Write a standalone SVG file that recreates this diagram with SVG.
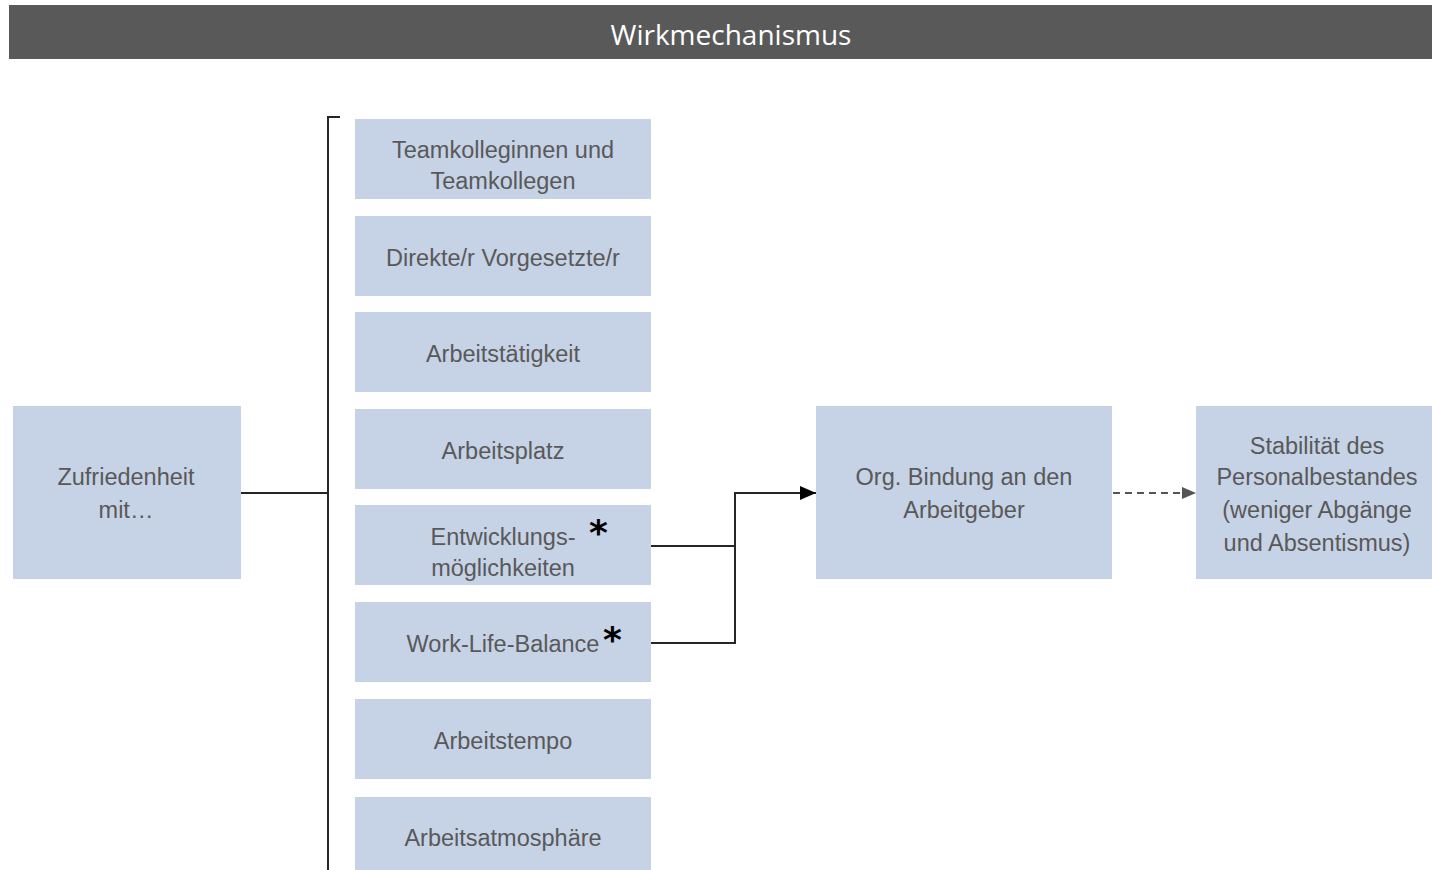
<svg xmlns="http://www.w3.org/2000/svg" width="1432" height="870" viewBox="0 0 1432 870">
<style>
.box{fill:#c6d2e6}
.t{font-family:"Liberation Sans",Arial,sans-serif;font-size:23.5px;fill:#595959;text-anchor:middle}
.ln{stroke:#262626;stroke-width:2;fill:none}
.star{font-family:"DejaVu Sans",sans-serif;font-size:36px;font-weight:bold;fill:#000}
</style>
<defs>
<marker id="ah" viewBox="0 0 10 10" refX="10" refY="5" markerWidth="16" markerHeight="14" markerUnits="userSpaceOnUse" orient="auto" preserveAspectRatio="none"><path d="M0,0L10,5L0,10z" fill="#000"/></marker>
<marker id="ahg" viewBox="0 0 10 10" refX="10" refY="5" markerWidth="14" markerHeight="12" markerUnits="userSpaceOnUse" orient="auto" preserveAspectRatio="none"><path d="M0,0L10,5L0,10z" fill="#555"/></marker>
</defs>
<rect width="1432" height="870" fill="#fff"/>
<g id="header">
<rect x="9" y="5" width="1423" height="54" fill="#595959"/>
<text x="731" y="45" font-family="'Open Sans',sans-serif" font-size="28" fill="#fff" text-anchor="middle">Wirkmechanismus</text>
</g>
<g id="connectors">
<path class="ln" d="M241,493H328M340,117H328V870"/>
<path class="ln" d="M651,546H735M651,643H735V493H816" marker-end="url(#ah)"/>
<path d="M1113,493H1196" stroke="#555" stroke-width="2" stroke-dasharray="7,5" fill="none" marker-end="url(#ahg)"/>
</g>
<g id="n-zufriedenheit"><rect class="box" x="13" y="406" width="228" height="173"/><text class="t" x="126" y="485">Zufriedenheit</text><text class="t" x="126" y="518">mit…</text></g>
<g id="n-team"><rect class="box" x="355" y="119" width="296" height="80"/><text class="t" x="503" y="158">Teamkolleginnen und</text><text class="t" x="503" y="189">Teamkollegen</text></g>
<g id="n-vorgesetzte"><rect class="box" x="355" y="216" width="296" height="80"/><text class="t" x="503" y="266">Direkte/r Vorgesetzte/r</text></g>
<g id="n-taetigkeit"><rect class="box" x="355" y="312" width="296" height="80"/><text class="t" x="503" y="362">Arbeitstätigkeit</text></g>
<g id="n-platz"><rect class="box" x="355" y="409" width="296" height="80"/><text class="t" x="503" y="459">Arbeitsplatz</text></g>
<g id="n-entwicklung"><rect class="box" x="355" y="505" width="296" height="80"/><text class="t" x="503" y="545">Entwicklungs-</text><text class="t" x="503" y="576">möglichkeiten</text><text class="star" x="589" y="545">*</text></g>
<g id="n-wlb"><rect class="box" x="355" y="602" width="296" height="80"/><text class="t" x="503" y="652">Work-Life-Balance</text><text class="star" x="603" y="652">*</text></g>
<g id="n-tempo"><rect class="box" x="355" y="699" width="296" height="80"/><text class="t" x="503" y="749">Arbeitstempo</text></g>
<g id="n-atmosphaere"><rect class="box" x="355" y="797" width="296" height="80"/><text class="t" x="503" y="846">Arbeitsatmosphäre</text></g>
<g id="n-bindung"><rect class="box" x="816" y="406" width="296" height="173"/><text class="t" x="964" y="485">Org. Bindung an den</text><text class="t" x="964" y="518">Arbeitgeber</text></g>
<g id="n-stabilitaet"><rect class="box" x="1196" y="406" width="240" height="173"/><text class="t" x="1317" y="454">Stabilität des</text><text class="t" x="1317" y="485">Personalbestandes</text><text class="t" x="1317" y="518">(weniger Abgänge</text><text class="t" x="1317" y="551">und Absentismus)</text></g>
</svg>
